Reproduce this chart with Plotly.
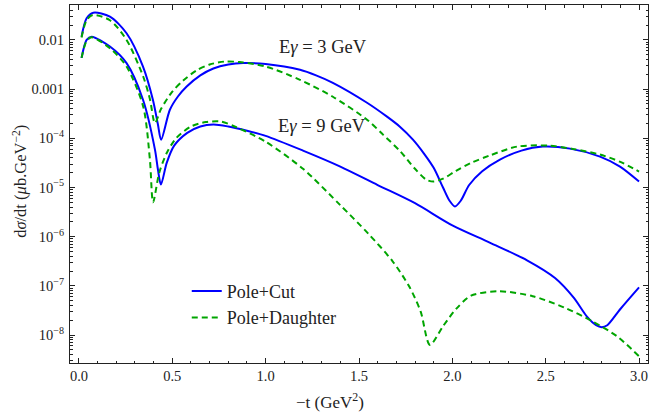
import plotly.graph_objects as go

# ---- data (y given as log10 of dσ/dt in μb/GeV^2) ----
t_cut_3 = [0.014, 0.041, 0.077, 0.166, 0.255, 0.343, 0.396, 0.423, 0.440, 0.487, 0.530, 0.577, 0.650,
           0.720, 0.800, 0.880, 1.000, 1.184, 1.270, 1.360, 1.543, 1.650, 1.719, 1.789, 1.850, 1.900, 1.950,
           1.985, 2.014, 2.045, 2.090, 2.160, 2.255, 2.370, 2.485, 2.630, 2.791, 2.898, 3.0]
lg_cut_3 = [-1.933, -1.56, -1.447, -1.527, -1.864, -2.541, -3.216, -3.72, -4.03, -3.42, -3.15, -2.947, -2.72,
            -2.58, -2.50, -2.47, -2.49, -2.608, -2.72, -2.872, -3.277, -3.56, -3.764, -4.027, -4.32, -4.60, -5.00,
            -5.27, -5.385, -5.27, -4.95, -4.67, -4.433, -4.25, -4.169, -4.21, -4.372, -4.575, -4.879]

t_dau_3 = [0.014, 0.041, 0.075, 0.166, 0.255, 0.344, 0.380, 0.407, 0.440, 0.500, 0.560, 0.630, 0.700,
           0.780, 0.860, 1.000, 1.184, 1.360, 1.543, 1.630, 1.720, 1.800, 1.860, 1.900, 1.950, 2.020,
           2.100, 2.200, 2.346, 2.520, 2.650, 2.790, 2.900, 3.0]
lg_dau_3 = [-1.95, -1.60, -1.493, -1.60, -2.0, -2.744, -3.2, -3.69, -3.40, -3.05, -2.82, -2.62, -2.50,
            -2.44, -2.45, -2.54, -2.811, -3.155, -3.622, -3.93, -4.26, -4.62, -4.84, -4.88, -4.82, -4.66,
            -4.50, -4.35, -4.169, -4.149, -4.22, -4.33, -4.48, -4.676]

t_cut_9 = [0.014, 0.041, 0.068, 0.166, 0.255, 0.343, 0.407, 0.423, 0.439, 0.470, 0.510, 0.580, 0.650,
           0.720, 0.800, 0.900, 1.000, 1.200, 1.400, 1.600, 1.800, 2.000, 2.200, 2.400, 2.550, 2.650, 2.720,
           2.770, 2.800, 2.830, 2.900, 3.0]
lg_cut_9 = [-2.365, -2.0, -1.933, -2.135, -2.472, -3.216, -4.230, -4.635, -4.94, -4.50, -4.15, -3.89, -3.76,
            -3.72, -3.76, -3.845, -3.95, -4.25, -4.575, -4.95, -5.32, -5.77, -6.12, -6.48, -6.84, -7.24, -7.62,
            -7.80, -7.84, -7.80, -7.47, -7.03]

t_dau_9 = [0.014, 0.041, 0.068, 0.166, 0.255, 0.344, 0.380, 0.397, 0.430, 0.470, 0.520, 0.600, 0.680,
           0.760, 0.840, 1.000, 1.200, 1.400, 1.550, 1.680, 1.770, 1.830, 1.880, 1.950, 2.020, 2.100,
           2.250, 2.430, 2.600, 2.750, 2.880, 3.0]
lg_dau_9 = [-2.365, -2.02, -1.945, -2.17, -2.541, -3.352, -4.433, -5.30, -4.70, -4.30, -4.00, -3.76, -3.67,
            -3.66, -3.77, -4.07, -4.62, -5.36, -5.94, -6.50, -7.02, -7.52, -8.20, -7.82, -7.47, -7.20,
            -7.11, -7.21, -7.44, -7.72, -8.02, -8.43]

x_ticks = [0.0, 0.5, 1.0, 1.5, 2.0, 2.5, 3.0]
x_ticktext = ["0.0", "0.5", "1.0", "1.5", "2.0", "2.5", "3.0"]
y_ticks = [1e-2, 1e-3, 1e-4, 1e-5, 1e-6, 1e-7, 1e-8]
y_ticktext = ["0.01", "0.001", "10<sup>−4</sup>", "10<sup>−5</sup>", "10<sup>−6</sup>", "10<sup>−7</sup>", "10<sup>−8</sup>"]
y_minor = [m * 10.0 ** e for e in range(-9, -1) for m in range(2, 10)]

BLUE = "rgb(0,0,255)"
GREEN = "rgb(0,165,0)"
FONT = "Liberation Serif"


def pw(lst):
    return [10.0 ** v for v in lst]


fig = go.Figure()
line_kw = dict(shape="spline", smoothing=0.8)
fig.add_trace(go.Scatter(x=t_cut_3, y=pw(lg_cut_3), mode="lines", name="Pole+Cut",
                         line=dict(color=BLUE, width=2, **line_kw), legendgroup="cut"))
fig.add_trace(go.Scatter(x=t_dau_3, y=pw(lg_dau_3), mode="lines", name="Pole+Daughter",
                         line=dict(color=GREEN, width=2, dash="6px,4px", **line_kw), legendgroup="dau"))
fig.add_trace(go.Scatter(x=t_cut_9, y=pw(lg_cut_9), mode="lines", name="Pole+Cut", showlegend=False,
                         line=dict(color=BLUE, width=2, **line_kw), legendgroup="cut"))
fig.add_trace(go.Scatter(x=t_dau_9, y=pw(lg_dau_9), mode="lines", name="Pole+Daughter", showlegend=False,
                         line=dict(color=GREEN, width=2, dash="6px,4px", **line_kw), legendgroup="dau"))

axis_common = dict(showgrid=False, zeroline=False, showline=True, linecolor="#222", linewidth=1,
                   mirror="allticks", ticks="inside", tickcolor="#222", tickwidth=1,
                   tickfont=dict(family=FONT, size=14.5, color="#222"))

fig.update_layout(
    width=649, height=415,
    margin=dict(l=70, r=1, t=5, b=52),
    paper_bgcolor="white", plot_bgcolor="white",
    font=dict(family=FONT, size=14, color="#222"),
    xaxis=dict(range=[-0.048, 3.048], tickmode="array", tickvals=x_ticks, ticktext=x_ticktext,
               ticklen=5, minor=dict(dtick=0.1, tick0=0, ticks="inside", ticklen=2.5, tickcolor="#222"),
               **axis_common),
    yaxis=dict(type="log", range=[-8.568, -1.29], tickmode="array", tickvals=y_ticks, ticktext=y_ticktext,
               ticklen=5, ticklabelstandoff=2,
               minor=dict(tickmode="array", tickvals=y_minor, ticks="inside", ticklen=2.5, tickcolor="#222"),
               **axis_common),
    showlegend=True,
    legend=dict(x=0.202, y=0.252, xanchor="left", yanchor="top", bgcolor="rgba(0,0,0,0)",
                font=dict(family=FONT, size=18, color="#222"), tracegroupgap=0, itemwidth=30),
    annotations=[
        dict(x=1.307, y=-2.142, xref="x", yref="y", text="E<i>γ</i> = 3 GeV", showarrow=False,
             font=dict(family=FONT, size=18.5, color="#222")),
        dict(x=1.30, y=-3.743, xref="x", yref="y", text="E<i>γ</i> = 9 GeV", showarrow=False,
             font=dict(family=FONT, size=18.5, color="#222")),
        dict(x=0.45, y=-0.105, xref="paper", yref="paper", text="−t (GeV<sup>2</sup>)", showarrow=False,
             yanchor="middle", font=dict(family=FONT, size=17, color="#222")),
        dict(x=-0.087, y=0.508, xref="paper", yref="paper", text="d<i>σ</i>/dt (<i>μ</i>b.GeV<sup>−2</sup>)",
             showarrow=False, textangle=-90, xanchor="center", yanchor="middle",
             font=dict(family=FONT, size=16.5, color="#222")),
    ],
)

fig.write_html("out.html")
